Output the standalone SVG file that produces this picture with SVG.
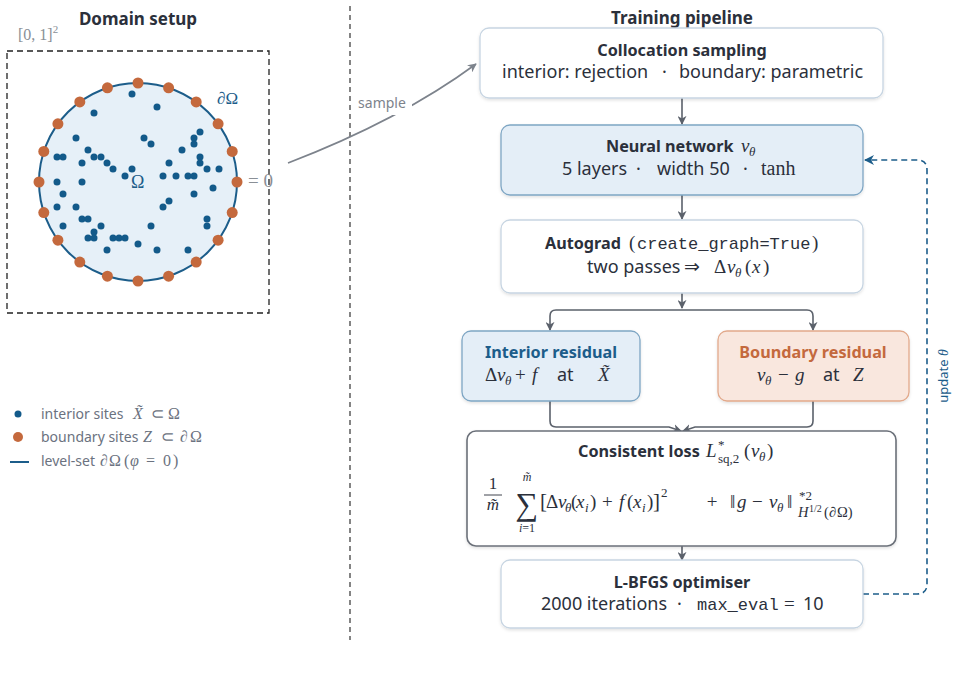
<svg xmlns="http://www.w3.org/2000/svg" width="959" height="695" viewBox="0 0 959 695">
<style>
.sans{font-family:"Noto Sans","Open Sans",sans-serif}
.sec{font-family:"Noto Sans","Open Sans",sans-serif;font-weight:bold;font-size:17px;fill:#2b303b}
.ttl{font-family:"Noto Sans","Open Sans",sans-serif;font-weight:bold;font-size:16.2px;fill:#2b303b}
.sub{font-family:"Noto Sans","Open Sans",sans-serif;font-size:18px;fill:#2b303b}
.m{font-family:"Liberation Serif",serif;font-style:italic;font-weight:normal}
.rm{font-family:"Liberation Serif",serif;font-style:normal;font-weight:normal}
.tt{font-family:"Liberation Mono",monospace;font-style:normal;font-weight:normal}
.box{stroke-width:1.3;filter:url(#sh)}
.conn{fill:none;stroke:#5b616b;stroke-width:1.6}
.idot{fill:#135a8a}
.bdot{fill:#c4693d}
.leg{font-family:"Noto Sans","Open Sans",sans-serif;font-size:14px;fill:#6b7280}
</style>
<defs>
<filter id="sh" x="-5%" y="-10%" width="110%" height="130%">
<feDropShadow dx="0" dy="1.5" stdDeviation="1.5" flood-color="#000" flood-opacity="0.12"/>
</filter>
<marker id="ah" viewBox="0 0 10 10" refX="9" refY="5" markerWidth="9" markerHeight="9" markerUnits="userSpaceOnUse" orient="auto-start-reverse">
<path d="M0,0 L10,5 L0,10 L3,5 z" fill="#5b616b"/>
</marker>
<marker id="ahg" viewBox="0 0 10 10" refX="9" refY="5" markerWidth="9" markerHeight="9" markerUnits="userSpaceOnUse" orient="auto">
<path d="M0,0 L10,5 L0,10 L3,5 z" fill="#7d838c"/>
</marker>
<marker id="ahb" viewBox="0 0 10 10" refX="9" refY="5" markerWidth="10" markerHeight="10" markerUnits="userSpaceOnUse" orient="auto">
<path d="M0,0 L10,5 L0,10 L3,5 z" fill="#1c5d8a"/>
</marker>
</defs>
<rect width="959" height="695" fill="#ffffff"/>

<!-- Left panel: domain setup -->
<g id="domain">
<text x="138" y="25" text-anchor="middle" class="sec">Domain setup</text>
<text x="18" y="40" class="rm" font-size="16" fill="#8a8f96">[0, 1]<tspan dy="-7" font-size="11">2</tspan></text>
<rect x="7" y="51" width="262" height="262" fill="none" stroke="#222" stroke-width="1.3" stroke-dasharray="6,4"/>
<text x="248" y="187" class="rm" font-size="19" fill="#8a8f96">= 0</text>
<circle cx="138" cy="182" r="99" fill="#e6f0f8" stroke="#1c5d8a" stroke-width="2"/>
<text x="217" y="104" class="m" font-size="17" fill="#1c5d8a">∂<tspan class="rm">Ω</tspan></text>
<text x="131" y="188" class="rm" font-size="18" fill="#1c5d8a">Ω</text>
<g id="interior-sites">
<circle class="idot" cx="132" cy="94" r="3.5"/><circle class="idot" cx="157" cy="107" r="3.5"/>
<circle class="idot" cx="94" cy="113" r="3.5"/><circle class="idot" cx="76" cy="138" r="3.5"/>
<circle class="idot" cx="144" cy="138" r="3.5"/><circle class="idot" cx="151" cy="144" r="3.5"/>
<circle class="idot" cx="200" cy="132" r="3.5"/><circle class="idot" cx="194" cy="138" r="3.5"/>
<circle class="idot" cx="194" cy="144" r="3.5"/><circle class="idot" cx="182" cy="150" r="3.5"/>
<circle class="idot" cx="88" cy="150" r="3.5"/><circle class="idot" cx="57" cy="157" r="3.5"/>
<circle class="idot" cx="63" cy="157" r="3.5"/><circle class="idot" cx="94" cy="157" r="3.5"/>
<circle class="idot" cx="101" cy="157" r="3.5"/><circle class="idot" cx="200" cy="157" r="3.5"/>
<circle class="idot" cx="200" cy="163" r="3.5"/><circle class="idot" cx="169" cy="163" r="3.5"/>
<circle class="idot" cx="82" cy="163" r="3.5"/><circle class="idot" cx="107" cy="163" r="3.5"/>
<circle class="idot" cx="113" cy="169" r="3.5"/><circle class="idot" cx="132" cy="169" r="3.5"/>
<circle class="idot" cx="207" cy="169" r="3.5"/><circle class="idot" cx="219" cy="169" r="3.5"/>
<circle class="idot" cx="125" cy="176" r="3.5"/><circle class="idot" cx="163" cy="176" r="3.5"/>
<circle class="idot" cx="176" cy="176" r="3.5"/><circle class="idot" cx="188" cy="176" r="3.5"/>
<circle class="idot" cx="194" cy="176" r="3.5"/><circle class="idot" cx="57" cy="182" r="3.5"/>
<circle class="idot" cx="82" cy="182" r="3.5"/><circle class="idot" cx="213" cy="188" r="3.5"/>
<circle class="idot" cx="63" cy="194" r="3.5"/><circle class="idot" cx="194" cy="194" r="3.5"/>
<circle class="idot" cx="169" cy="201" r="3.5"/><circle class="idot" cx="163" cy="207" r="3.5"/>
<circle class="idot" cx="57" cy="207" r="3.5"/><circle class="idot" cx="76" cy="207" r="3.5"/>
<circle class="idot" cx="82" cy="219" r="3.5"/><circle class="idot" cx="88" cy="219" r="3.5"/>
<circle class="idot" cx="207" cy="219" r="3.5"/><circle class="idot" cx="207" cy="226" r="3.5"/>
<circle class="idot" cx="63" cy="226" r="3.5"/><circle class="idot" cx="101" cy="226" r="3.5"/>
<circle class="idot" cx="151" cy="226" r="3.5"/><circle class="idot" cx="94" cy="232" r="3.5"/>
<circle class="idot" cx="88" cy="238" r="3.5"/><circle class="idot" cx="94" cy="238" r="3.5"/>
<circle class="idot" cx="113" cy="238" r="3.5"/><circle class="idot" cx="119" cy="238" r="3.5"/>
<circle class="idot" cx="125" cy="238" r="3.5"/><circle class="idot" cx="138" cy="244" r="3.5"/>
<circle class="idot" cx="107" cy="250" r="3.5"/><circle class="idot" cx="157" cy="250" r="3.5"/>
<circle class="idot" cx="188" cy="250" r="3.5"/>
</g>
<g id="boundary-sites">
<circle class="bdot" cx="138" cy="83" r="5.5"/><circle class="bdot" cx="168.6" cy="87.8" r="5.5"/>
<circle class="bdot" cx="196.2" cy="101.9" r="5.5"/><circle class="bdot" cx="218.1" cy="123.8" r="5.5"/>
<circle class="bdot" cx="232.2" cy="151.4" r="5.5"/><circle class="bdot" cx="237" cy="182" r="5.5"/>
<circle class="bdot" cx="232.2" cy="212.6" r="5.5"/><circle class="bdot" cx="218.1" cy="240.2" r="5.5"/>
<circle class="bdot" cx="196.2" cy="262.1" r="5.5"/><circle class="bdot" cx="168.6" cy="276.2" r="5.5"/>
<circle class="bdot" cx="138" cy="281" r="5.5"/><circle class="bdot" cx="107.4" cy="276.2" r="5.5"/>
<circle class="bdot" cx="79.8" cy="262.1" r="5.5"/><circle class="bdot" cx="57.9" cy="240.2" r="5.5"/>
<circle class="bdot" cx="43.8" cy="212.6" r="5.5"/><circle class="bdot" cx="39" cy="182" r="5.5"/>
<circle class="bdot" cx="43.8" cy="151.4" r="5.5"/><circle class="bdot" cx="57.9" cy="123.8" r="5.5"/>
<circle class="bdot" cx="79.8" cy="101.9" r="5.5"/><circle class="bdot" cx="107.4" cy="87.8" r="5.5"/>
</g>
</g>

<g id="legend">
<circle class="idot" cx="18" cy="414" r="3.5"/>
<text y="419" class="leg"><tspan x="41">interior sites</tspan><tspan x="133" class="m" font-size="16">X̃</tspan><tspan x="151" class="rm" font-size="16">⊂</tspan><tspan x="168" class="rm" font-size="16">Ω</tspan></text>
<circle class="bdot" cx="18" cy="437" r="5"/>
<text y="442" class="leg"><tspan x="41">boundary sites</tspan><tspan x="143" class="m" font-size="16">Z</tspan><tspan x="161" class="rm" font-size="16">⊂</tspan><tspan x="180" class="m" font-size="16">∂</tspan><tspan x="190" class="rm" font-size="16">Ω</tspan></text>
<line x1="10" y1="462" x2="29" y2="462" stroke="#1c5d8a" stroke-width="2"/>
<text y="466" class="leg"><tspan x="41">level-set</tspan><tspan x="100" class="m" font-size="16">∂</tspan><tspan x="109" class="rm" font-size="16">Ω</tspan><tspan x="124" class="rm" font-size="16">(</tspan><tspan x="130" class="m" font-size="16">φ</tspan><tspan x="146" class="rm" font-size="16">=</tspan><tspan x="163" class="rm" font-size="16">0</tspan><tspan x="173" class="rm" font-size="16">)</tspan></text>
</g>

<line x1="350" y1="6" x2="350" y2="640" stroke="#333" stroke-width="1.2" stroke-dasharray="5,4"/>

<text x="682" y="24" text-anchor="middle" class="sec">Training pipeline</text>

<!-- Connectors -->
<g id="connectors">
<path d="M288,163 Q400,120 476,64" fill="none" stroke="#7d838c" stroke-width="1.6" marker-end="url(#ahg)"/>
<rect x="356" y="93" width="56" height="22" fill="#ffffff"/>
<text x="382" y="108" text-anchor="middle" class="sans" font-size="14" fill="#7d838c">sample</text>
<line class="conn" x1="682" y1="98" x2="682" y2="124" marker-end="url(#ah)"/>
<line class="conn" x1="682" y1="195" x2="682" y2="219" marker-end="url(#ah)"/>
<line class="conn" x1="682" y1="293" x2="682" y2="308" marker-end="url(#ah)"/>
<path class="conn" d="M550,330 V316 Q550,310 556,310 H807 Q813,310 813,316 V330" marker-start="url(#ah)" marker-end="url(#ah)"/>
<path class="conn" d="M550,401 V421 Q550,427 556,427 H669 L681,431" marker-end="url(#ah)"/>
<path class="conn" d="M813,401 V421 Q813,427 807,427 H695 L683,431" marker-end="url(#ah)"/>
<line class="conn" x1="682" y1="546" x2="682" y2="560" marker-end="url(#ah)"/>
<path d="M863,594 H917 Q927,594 927,584 V170 Q927,160 917,160 H865" fill="none" stroke="#1c5d8a" stroke-width="1.6" stroke-dasharray="6,4" marker-end="url(#ahb)"/>
<text transform="translate(948,376) rotate(-90)" text-anchor="middle" class="sans" font-size="13" fill="#1c5d8a">update <tspan class="m" font-size="14">θ</tspan></text>
</g>

<!-- Nodes -->
<g id="collocation">
<rect class="box" x="480" y="28" width="403" height="70" rx="9" fill="#ffffff" stroke="#c7d5e2"/>
<text x="682" y="56" text-anchor="middle" class="ttl">Collocation sampling</text>
<text y="78" class="sub"><tspan x="502">interior: rejection</tspan><tspan x="662">·</tspan><tspan x="679">boundary: parametric</tspan></text>
</g>

<g id="network">
<rect class="box" x="501" y="125" width="362" height="70" rx="9" fill="#e4eef7" stroke="#7ea6c4"/>
<text y="152" class="ttl"><tspan x="606">Neural network</tspan><tspan x="741" class="m" font-size="19">v</tspan><tspan x="749" y="156" class="m" font-size="13">θ</tspan></text>
<text y="175" class="sub"><tspan x="562">5 layers</tspan><tspan x="636">·</tspan><tspan x="657">width 50</tspan><tspan x="743">·</tspan><tspan x="761" class="rm" font-size="20">tanh</tspan></text>
</g>

<g id="autograd">
<rect class="box" x="501" y="220" width="362" height="73" rx="9" fill="#ffffff" stroke="#c7d5e2"/>
<text y="249" class="ttl"><tspan x="545">Autograd</tspan><tspan x="629" class="rm" font-size="19">(</tspan><tspan x="637" class="tt" font-size="17">create_graph=True</tspan><tspan x="812" class="rm" font-size="19">)</tspan></text>
<text y="273" class="sub"><tspan x="587">two passes</tspan><tspan x="684" class="rm" font-size="19">⇒</tspan><tspan x="714" class="rm" font-size="19">Δ</tspan><tspan x="727" class="m" font-size="19">v</tspan><tspan x="735" y="277" class="m" font-size="13">θ</tspan><tspan x="745" y="273" class="rm" font-size="19">(</tspan><tspan x="752" class="m" font-size="19">x</tspan><tspan x="763" class="rm" font-size="19">)</tspan></text>
</g>

<g id="interior-residual">
<rect class="box" x="462" y="331" width="178" height="70" rx="9" fill="#e4eef7" stroke="#7ea6c4"/>
<text x="551" y="358" text-anchor="middle" class="ttl" style="fill:#1c5d8a">Interior residual</text>
<text y="381" class="sub"><tspan x="485" class="rm" font-size="19">Δ</tspan><tspan x="497" class="m" font-size="19">v</tspan><tspan x="505" y="385" class="m" font-size="13">θ</tspan><tspan x="515" y="381" class="rm" font-size="19">+</tspan><tspan x="532" class="m" font-size="19">f</tspan><tspan x="557">at</tspan><tspan x="598" class="m" font-size="19">X̃</tspan></text>
</g>

<g id="boundary-residual">
<rect class="box" x="718" y="331" width="191" height="70" rx="9" fill="#f9e7de" stroke="#e2a98b"/>
<text x="813" y="358" text-anchor="middle" class="ttl" style="fill:#c4693d">Boundary residual</text>
<text y="381" class="sub"><tspan x="757" class="m" font-size="19">v</tspan><tspan x="765" y="385" class="m" font-size="13">θ</tspan><tspan x="778" y="381" class="rm" font-size="19">−</tspan><tspan x="795" class="m" font-size="19">g</tspan><tspan x="823">at</tspan><tspan x="853" class="m" font-size="19">Z</tspan></text>
</g>

<g id="loss">
<rect class="box" x="467" y="431" width="429" height="115" rx="9" fill="#ffffff" stroke="#6b7079" style="stroke-width:1.6"/>
<text y="457" class="ttl"><tspan x="578">Consistent loss</tspan><tspan x="706" class="m" font-size="19">L</tspan><tspan x="718" y="449" class="rm" font-size="13">*</tspan><tspan x="718" y="463" class="rm" font-size="13">sq,2</tspan><tspan x="744" y="457" class="rm" font-size="19">(</tspan><tspan x="751" class="m" font-size="19">v</tspan><tspan x="759" y="461" class="m" font-size="13">θ</tspan><tspan x="767" y="457" class="rm" font-size="19">)</tspan></text>
<text x="493" y="489" text-anchor="middle" class="rm" font-size="17" fill="#2b303b">1</text>
<line x1="484" y1="495" x2="502" y2="495" stroke="#2b303b" stroke-width="0.9"/>
<text x="493" y="510" text-anchor="middle" class="m" font-size="17" fill="#2b303b">m̃</text>
<text x="527" y="515" text-anchor="middle" class="rm" font-size="32" fill="#2b303b">∑</text>
<text x="527" y="481" text-anchor="middle" class="m" font-size="12" fill="#2b303b">m̃</text>
<text x="527" y="532" text-anchor="middle" class="m" font-size="12" fill="#2b303b">i<tspan class="rm">=1</tspan></text>
<text y="508" class="m" font-size="19" fill="#2b303b"><tspan x="540" class="rm" font-size="21">[</tspan><tspan x="546" class="rm">Δ</tspan><tspan x="558">v</tspan><tspan x="565" y="512" font-size="13">θ</tspan><tspan x="571" y="508" class="rm">(</tspan><tspan x="576">x</tspan><tspan x="585" y="512" font-size="13">i</tspan><tspan x="590" y="508" class="rm">)</tspan><tspan x="602" class="rm">+</tspan><tspan x="619">f</tspan><tspan x="627" class="rm">(</tspan><tspan x="633">x</tspan><tspan x="642" y="512" font-size="13">i</tspan><tspan x="647" y="508" class="rm">)</tspan><tspan x="653" class="rm" font-size="21">]</tspan><tspan x="661" y="497" class="rm" font-size="13">2</tspan></text>
<text x="712" y="508" text-anchor="middle" class="rm" font-size="19" fill="#2b303b">+</text>
<text y="508" class="m" font-size="19" fill="#2b303b"><tspan x="730" class="rm">‖</tspan><tspan x="737">g</tspan><tspan x="752" class="rm">−</tspan><tspan x="769">v</tspan><tspan x="777" y="512" font-size="13">θ</tspan><tspan x="787" y="508" class="rm">‖</tspan></text>
<text x="799" y="500" class="rm" font-size="13" fill="#2b303b">*2</text>
<text y="517" class="m" font-size="14.5" fill="#2b303b"><tspan x="798">H</tspan><tspan x="809" y="512" class="rm" font-size="10">1/2</tspan><tspan x="824" y="517" class="rm">(</tspan><tspan x="829">∂</tspan><tspan x="837" class="rm">Ω)</tspan></text>
</g>

<g id="lbfgs">
<rect class="box" x="501" y="560" width="362" height="68" rx="9" fill="#ffffff" stroke="#c7d5e2"/>
<text x="682" y="588" text-anchor="middle" class="ttl">L-BFGS optimiser</text>
<text y="610" class="sub"><tspan x="541">2000 iterations</tspan><tspan x="677">·</tspan><tspan x="697" class="tt" font-size="17">max_eval</tspan><tspan x="784" class="rm" font-size="19">=</tspan><tspan x="803">10</tspan></text>
</g>
</svg>
